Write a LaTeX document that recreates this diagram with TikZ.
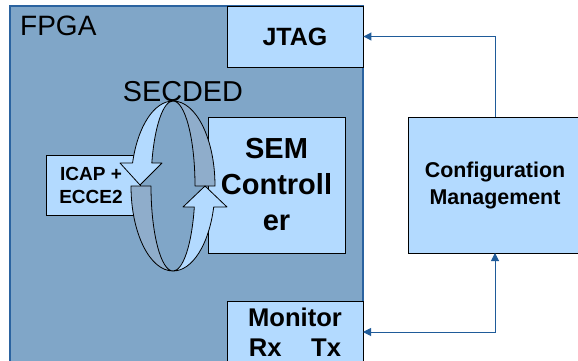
\documentclass[tikz,border=0pt]{standalone}
\usepackage{fontspec}
\setmainfont{Liberation Sans}
\usetikzlibrary{arrows.meta}
\definecolor{fpgafill}{HTML}{80A6C8}
\definecolor{fpgaedge}{HTML}{2B63A0}
\definecolor{boxfill}{HTML}{B3DAFF}
\definecolor{bandfill}{HTML}{8FADCB}
\definecolor{linkcol}{HTML}{1F5B99}
\newcommand{\fs}[2]{\fontsize{#1}{#2}\selectfont}
\begin{document}
\begin{tikzpicture}[x=1pt,y=1pt,
  block/.style={draw=black,line width=0.9pt,fill=boxfill},
  lbl/.style={align=center,inner sep=0pt,font=\bfseries},
  ribbonlight/.style={draw=black,line width=0.8pt,fill=boxfill,line join=round},
  ribbondark/.style={draw=black,line width=0.8pt,fill=bandfill,line join=round},
  link/.style={draw=linkcol,line width=1pt},
  linktip/.tip={Triangle[length=8pt,width=8pt]}]
\useasboundingbox (0,0) rectangle (578,360);
\clip (0,0) rectangle (578,360);

% FPGA device outline
\fill[fpgafill] (10,-10) rectangle (363,354);
\draw[fpgaedge,line width=1.4pt] (10,-10) -- (10,354) -- (363,354) -- (363,-10);
\node[anchor=base west,inner sep=0pt,font=\fs{28}{34}] (fpga) at (20,325) {FPGA};

% blocks inside the device
\node[block,minimum width=136pt,minimum height=61pt] (jtag) at (295,323.5) {};
\node[lbl,font=\bfseries\fs{25}{30}] at (jtag) {JTAG};

\node[block,minimum width=137pt,minimum height=136pt] (sem) at (276.5,175) {};
\node[lbl,font=\bfseries\fs{29}{36}] at (sem) {SEM\\Controll\\er};

\node[block,minimum width=94pt,minimum height=60pt] (icap) at (93,175) {};
\node[lbl,font=\bfseries\fs{19}{23}] at (91,175) {ICAP +\\ECCE2};

\node[block,minimum width=136pt,minimum height=69pt] (mon) at (295,24.5) {};
\node[lbl,font=\bfseries\fs{25.6}{30}] at (295,28) {Monitor\\Rx\hspace{1.15em}Tx};

% external block
\node[block,minimum width=172pt,minimum height=136pt] (cfg) at (494,175) {};
\node[lbl,font=\bfseries\fs{21.4}{27}] at (495,174.5) {Configuration\\Management};

% connections
\coordinate (cfgtop) at (495,243);
\coordinate (cfgbot) at (495,107);
\coordinate (monin) at (363,28);
\draw[link,-linktip] (cfgtop) |- (jtag.east);
\draw[link,linktip-linktip] (cfgbot) |- (monin);

% SECDED label
\node[inner sep=0pt,font=\fs{28.8}{34}] (secded) at (183,268) {SECDED};

% circular ribbon arrow (two concentric ellipses, centre (173,174))
% upper right band
\path[ribbondark] (173,259) arc[start angle=90,end angle=0,x radius=42,y radius=85]
  -- (195,174) arc[start angle=0,end angle=90,x radius=22,y radius=85] -- cycle;
% lower left band
\path[ribbondark] (131,174) arc[start angle=180,end angle=270,x radius=42,y radius=85]
  arc[start angle=270,end angle=180,x radius=22,y radius=85] -- cycle;
% upper left arrow pointing down
\path[ribbonlight] (173,259) arc[start angle=90,end angle=164.3,x radius=42,y radius=85]
  -- (120,197) -- (140,175) -- (162,197) -- (151.82,197)
  arc[start angle=164.3,end angle=90,x radius=22,y radius=85] -- cycle;
% lower right arrow pointing up
\path[ribbonlight] (173,89) arc[start angle=270,end angle=345.7,x radius=22,y radius=85]
  -- (183,153) -- (205,174) -- (227,153) -- (213.7,153)
  arc[start angle=345.7,end angle=270,x radius=42,y radius=85] -- cycle;
\end{tikzpicture}
\end{document}
